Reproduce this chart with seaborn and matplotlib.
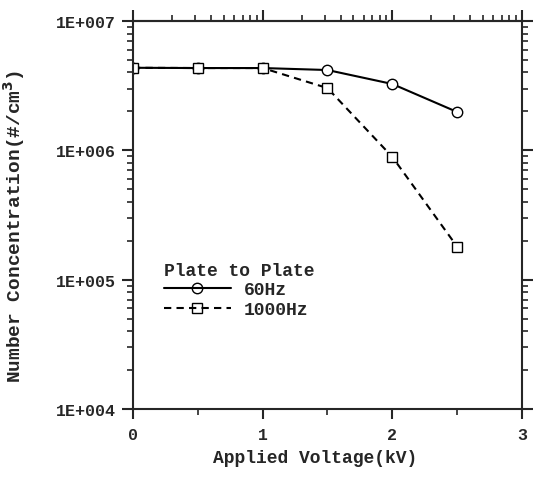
import numpy as np
import pandas as pd
import seaborn as sns
import matplotlib
matplotlib.use('Agg')
import matplotlib.pyplot as plt
from matplotlib.lines import Line2D
from matplotlib.ticker import FixedLocator, FixedFormatter, LogLocator, MultipleLocator, NullFormatter

# ---- data ----
voltage = [0.0, 0.5, 1.0, 1.5, 2.0, 2.5]
conc_60hz = [4.35e6, 4.33e6, 4.33e6, 4.18e6, 3.26e6, 1.98e6]
conc_1000hz = [4.35e6, 4.33e6, 4.33e6, 3.03e6, 8.9e5, 1.8e5]
series_names = ['60Hz', '1000Hz']
x_ticks = [0, 1, 2, 3]
x_ticklabels = ['0', '1', '2', '3']
y_ticks = [1e4, 1e5, 1e6, 1e7]
y_ticklabels = ['1E+004', '1E+005', '1E+006', '1E+007']

df = pd.DataFrame({
    'Voltage': voltage + voltage,
    'Conc': conc_60hz + conc_1000hz,
    'Freq': [series_names[0]] * len(voltage) + [series_names[1]] * len(voltage),
})

sns.set_style('ticks')
plt.rcParams['font.family'] = ['Liberation Mono', 'DejaVu Sans']
plt.rcParams['font.weight'] = 'bold'
plt.rcParams['axes.labelweight'] = 'bold'

fig = plt.figure(figsize=(5.34, 4.81), dpi=100)
ax = fig.add_axes([0.249, 0.1476, 0.7285, 0.8066])

sns.lineplot(data=df, x='Voltage', y='Conc', hue='Freq', style='Freq',
             hue_order=series_names, style_order=series_names,
             markers={'60Hz': 'o', '1000Hz': 's'},
             dashes={'60Hz': '', '1000Hz': (3.5, 2.5)},
             palette={'60Hz': 'black', '1000Hz': 'black'},
             markersize=7.5, markerfacecolor='white', markeredgecolor='black',
             markeredgewidth=1.0, linewidth=1.5, ax=ax, legend=False)

ax.set_yscale('log')
ax.set_ylim(1e4, 1e7)
ax.set_xlim(0, 3)

ax.yaxis.set_major_locator(FixedLocator(y_ticks))
ax.yaxis.set_major_formatter(FixedFormatter(y_ticklabels))
ax.yaxis.set_minor_locator(LogLocator(base=10, subs=np.arange(2, 10)))
ax.yaxis.set_minor_formatter(NullFormatter())

ax.xaxis.set_major_locator(FixedLocator(x_ticks))
ax.xaxis.set_major_formatter(FixedFormatter(x_ticklabels))
ax.xaxis.set_minor_locator(MultipleLocator(0.5))

for s in ax.spines.values():
    s.set_linewidth(1.5)
    s.set_visible(True)

ax.tick_params(axis='both', which='major', direction='out', length=7, width=1.5,
               labelsize=12, pad=4)
ax.tick_params(axis='x', which='major', pad=6)
ax.tick_params(axis='both', which='minor', direction='out', length=4, width=1.2)
ax.tick_params(axis='y', which='both', right=True)
ax.tick_params(axis='y', which='major', length=8)

# top axis with log-style ticks
sec = ax.secondary_xaxis('top')
sec.set_xticks(x_ticks)
sec.set_xticklabels([])
top_minor = [n + np.log10(k) for n in range(3) for k in range(2, 10)]
sec.xaxis.set_minor_locator(FixedLocator(top_minor))
sec.tick_params(which='major', direction='out', length=8, width=1.5)
sec.tick_params(which='minor', direction='out', length=4, width=1.2)
sec.spines['top'].set_linewidth(1.5)

for lab in ax.get_xticklabels() + ax.get_yticklabels():
    lab.set_fontweight('bold')

ax.set_xlabel('Applied Voltage(kV)', fontsize=13, fontweight='bold')
ax.set_ylabel('Number Concentration(#/cm$^3$)', fontsize=14, fontweight='bold')
ax.xaxis.set_label_coords(0.468, -0.102)
ax.yaxis.set_label_coords(-0.272, 0.472)

handles = [
    Line2D([], [], color='black', lw=1.5, marker='o', markersize=7.5,
           markerfacecolor='none', markeredgecolor='black', markeredgewidth=1.0),
    Line2D([], [], color='black', lw=1.5, ls=(0, (3.5, 2.5)), marker='s', markersize=7.5,
           markerfacecolor='none', markeredgecolor='black', markeredgewidth=1.0),
]
leg = ax.legend(handles, series_names, title='Plate to Plate', loc='upper left',
                bbox_to_anchor=(0.08, 0.38), frameon=False, borderpad=0,
                borderaxespad=0, handlelength=3.7, handletextpad=0.7,
                labelspacing=0.15, alignment='left',
                prop={'family': 'Liberation Mono', 'weight': 'bold', 'size': 13},
                title_fontproperties={'family': 'Liberation Mono', 'weight': 'bold', 'size': 13})

fig.savefig('out.png', dpi=100)
